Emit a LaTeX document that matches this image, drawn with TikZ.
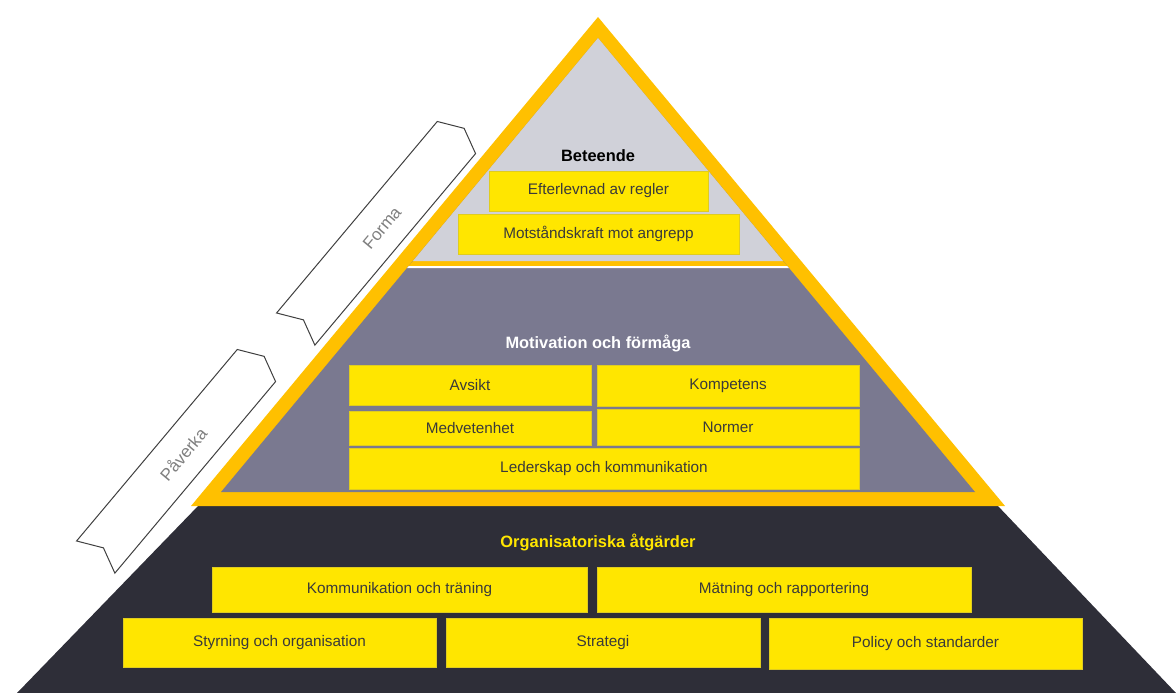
\documentclass[tikz,border=0pt]{standalone}
\usepackage{fontspec}
\setmainfont{Liberation Sans}
\usepackage{tikz}

\definecolor{eyyellow}{HTML}{FFE600}
\definecolor{rimyellow}{HTML}{FFC000}
\definecolor{topgray}{HTML}{D0D1D9}
\definecolor{midgray}{HTML}{7A7990}
\definecolor{basegray}{HTML}{2E2E38}
\definecolor{boxtext}{HTML}{3A3A3A}
\definecolor{taggray}{HTML}{808080}

\tikzset{
  box/.style={fill=eyyellow, draw=eyyellow!75!gray, line width=0.8pt, text=boxtext,
    font=\fontsize{15.3}{18}\selectfont, inner sep=0pt},
  heading/.style={font=\fontsize{16.4}{19}\selectfont\bfseries},
  tag/.style={draw=black!75, fill=white, line width=1pt, line join=miter},
  taglabel/.style={text=taggray, font=\fontsize{17}{20}\selectfont, rotate=50}
}

\begin{document}
\begin{tikzpicture}[x=1pt,y=-1pt]
      \useasboundingbox (0,0) rectangle (1176,693);
      \clip (0,0) rectangle (1176,693);
      % base layer
      \fill[basegray] (199,505) -- (997,505) -- (1176,693) -- (17,693) -- cycle;
      % yellow frame and the two upper layers
      \fill[rimyellow] (598,17) -- (1005,506) -- (191,506) -- cycle;
      \fill[midgray] (598,38) -- (975,492) -- (221,492) -- cycle;
      \fill[rimyellow] (598,38) -- (787.2,266) -- (408.8,266) -- cycle;
      \fill[topgray] (598,38) -- (783,261) -- (413,261) -- cycle;
      \fill[white] (408.8,266) -- (787.2,266) -- (788.9,268) -- (407.1,268) -- cycle;

      % Beteende
      \node[heading, text=black] (beteende) at (598,156) {Beteende};
      \node[box, minimum width=219, minimum height=40] (efterlevnad) at (598.5,191) {Efterlevnad av regler};
      \node[box, minimum width=281, minimum height=40] (motstand) at (598.5,234) {Motståndskraft mot angrepp};

      % Motivation och förmåga
      \node[heading, text=white] (motivation) at (598,343) {Motivation och förmåga};
      \node[box, minimum width=242, minimum height=40] (avsikt) at (470,385) {Avsikt};
      \node[box, minimum width=262, minimum height=41] (kompetens) at (728,385.5) {Kompetens};
      \node[box, minimum width=242, minimum height=34] (medvetenhet) at (470,428) {Medvetenhet};
      \node[box, minimum width=262, minimum height=36] (normer) at (728,427) {Normer};
      \node[box, minimum width=510, minimum height=41] (lederskap) at (604,468.5) {Lederskap och kommunikation};

      % Organisatoriska åtgärder
      \node[heading, text=eyyellow] (organisation) at (598,542) {Organisatoriska åtgärder};
      \node[box, minimum width=375, minimum height=45] (traning) at (399.5,589.5) {Kommunikation och träning};
      \node[box, minimum width=374, minimum height=45] (matning) at (784,589.5) {Mätning och rapportering};
      \node[box, minimum width=313, minimum height=49] (styrning) at (279.5,642.5) {Styrning och organisation};
      \node[box, minimum width=314, minimum height=49] (strategi) at (603,642.5) {Strategi};
      \node[box, minimum width=313, minimum height=51] (policy) at (925.5,643.5) {Policy och standarder};

      % tags along the left side
      \begin{scope}[shift={(378,231)}, rotate=50]
        \draw[tag] (-128,-25) -- (-116,0) -- (-128,25) -- (122,25) -- (134,0) -- (122,-25) -- cycle;
      \end{scope}
      \node[taglabel] (forma) at (382,228) {Forma};
      \begin{scope}[shift={(178,459)}, rotate=50]
        \draw[tag] (-128,-25) -- (-116,0) -- (-128,25) -- (122,25) -- (134,0) -- (122,-25) -- cycle;
      \end{scope}
      \node[taglabel] (paverka) at (183,454) {Påverka};
\end{tikzpicture}
\end{document}
